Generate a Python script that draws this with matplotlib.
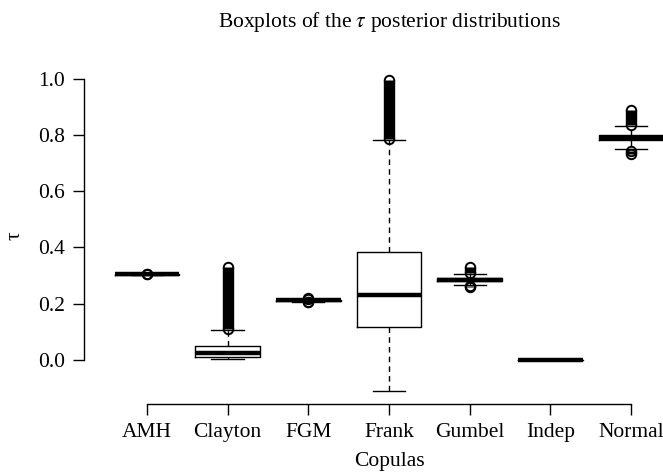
import matplotlib
matplotlib.use("Agg")
import matplotlib.pyplot as plt

plt.rcParams['font.family'] = ['Liberation Serif', 'DejaVu Serif']
plt.rcParams['mathtext.fontset'] = 'stix'

categories = ["AMH", "Clayton", "FGM", "Frank", "Gumbel", "Indep", "Normal"]
whis_lo = [0.300, 0.002, 0.207, -0.113, 0.265, 0.0, 0.749]
q1 = [0.302, 0.008, 0.209, 0.115, 0.280, 0.0, 0.781]
med = [0.304, 0.022, 0.211, 0.231, 0.285, 0.0, 0.790]
q3 = [0.306, 0.048, 0.213, 0.382, 0.290, 0.0, 0.799]
whis_hi = [0.308, 0.107, 0.216, 0.782, 0.305, 0.0, 0.832]
# outlier ranges (upper and lower); None = no outliers
upper_out = [(0.305, 0.305), (0.110, 0.330), (0.216, 0.218), (0.785, 0.995),
             (0.307, 0.329), None, (0.836, 0.889)]
lower_out = [None, None, (0.204, 0.206), None, (0.258, 0.262), None, (0.733, 0.745)]

W, H = 663, 472
fig = plt.figure(figsize=(W / 100, H / 100), dpi=100)
ax = fig.add_axes([84 / W, (H - 404) / H, (694 - 84) / W, (404 - 66.5) / H])

stats = []
for i, c in enumerate(categories):
    stats.append(dict(label=c, whislo=whis_lo[i], q1=q1[i], med=med[i],
                      q3=q3[i], whishi=whis_hi[i], fliers=[]))

pos = list(range(1, len(categories) + 1))
ax.bxp(stats, positions=pos, widths=0.8, showfliers=False,
       boxprops=dict(color='black', linewidth=1.0),
       medianprops=dict(color='black', linewidth=3.2, solid_capstyle='butt'),
       whiskerprops=dict(color='black', linewidth=1.0, linestyle=(0, (4, 3))),
       capprops=dict(color='black', linewidth=1.0), capwidths=0.4)

for i, p in enumerate(pos):
    for rng in (upper_out[i], lower_out[i]):
        if rng is None:
            continue
        lo, hi = rng
        if hi > lo:
            ax.vlines(p, lo, hi, color='black', linewidth=8.2, zorder=4)
        ax.plot([p, p], [lo, hi], linestyle='none', marker='o', ms=6.8,
                mfc='none', mec='black', mew=1.4, zorder=5)

ax.set_xlim(0.22, 7.78)
ax.set_ylim(-0.158, 1.0445)
ax.set_xticks(pos)
ax.set_xticklabels(categories)
ax.set_yticks([0.0, 0.2, 0.4, 0.6, 0.8, 1.0])
ax.set_yticklabels(["0.0", "0.2", "0.4", "0.6", "0.8", "1.0"])
for s in ('top', 'right'):
    ax.spines[s].set_visible(False)
ax.spines['left'].set_bounds(0.0, 1.0)
ax.spines['bottom'].set_bounds(1, 7)
for s in ('left', 'bottom'):
    ax.spines[s].set_linewidth(1.0)
ax.tick_params(axis='both', direction='out', length=7.7, width=1.0,
               labelsize=15.5, pad=6)

ax.set_xlabel("Copulas", fontsize=15.5, labelpad=7)
ax.set_ylabel("τ", fontsize=15.5, labelpad=10)
ax.set_title(r"Boxplots of the $\tau$ posterior distributions", fontsize=15.5, pad=28.5)

fig.savefig("out.png", dpi=100)
